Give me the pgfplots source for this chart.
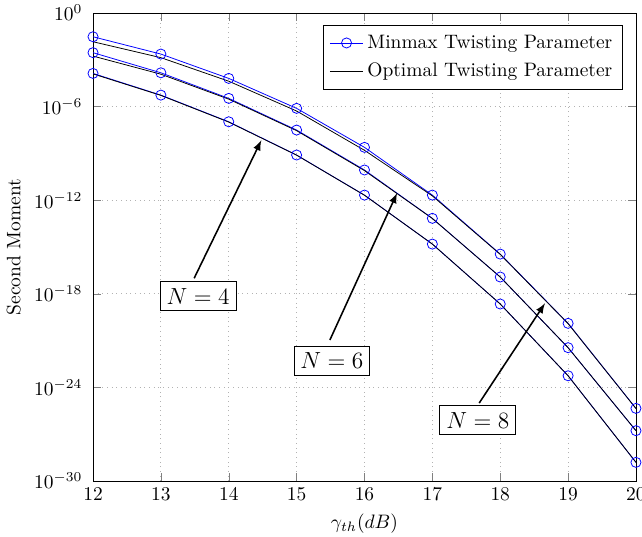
\documentclass[border=0pt]{standalone}
\usepackage{pgfplots}
\usepackage{pgfplotstable}
\pgfplotsset{compat=1.18}
\usetikzlibrary{arrows}

% log10 of the second moment
\pgfplotstableread{
x   m4     o4     m6     o6     m8     o8
12  -3.87  -3.90  -2.54  -2.76  -1.52  -1.84
13  -5.26  -5.28  -3.83  -3.92  -2.63  -2.86
14  -6.97  -6.99  -5.47  -5.52  -4.19  -4.37
15  -9.10  -9.11  -7.50  -7.54  -6.11  -6.28
16  -11.67 -11.68 -10.06 -10.10 -8.61  -8.80
17  -14.81 -14.81 -13.16 -13.17 -11.67 -11.72
18  -18.65 -18.65 -16.92 -16.92 -15.45 -15.47
19  -23.25 -23.25 -21.45 -21.45 -19.89 -19.91
20  -28.80 -28.80 -26.77 -26.77 -25.34 -25.35
}\moments

\begin{document}
\begin{tikzpicture}
\begin{axis}[
  scale only axis,
  width=279pt, height=240.5pt,
  xmin=12, xmax=20, ymin=1e-30, ymax=1,
  ymode=log,
  xtick={12,...,20},
  ytick={1e-30,1e-24,1e-18,1e-12,1e-6,1},
  grid=major,
  major grid style={dotted, gray!60},
  xlabel={$\gamma_{th}(dB)$},
  ylabel={Second Moment},
  yticklabel style={xshift=-2pt},
  legend pos=north east,
  legend cell align=left,
  legend style={draw=black, fill=white, at={(0.975,0.975)}, row sep=2pt, inner ysep=3pt},
]
\addplot[blue, mark=o, mark size=2.6pt] table[x=x, y expr=10^(\thisrow{m4})] {\moments};
\addlegendentry{Minmax Twisting Parameter}
\addplot[black, no marks] table[x=x, y expr=10^(\thisrow{o4})] {\moments};
\addlegendentry{Optimal Twisting Parameter}
\addplot[blue, mark=o, mark size=2.6pt, forget plot] table[x=x, y expr=10^(\thisrow{m6})] {\moments};
\addplot[black, no marks, forget plot] table[x=x, y expr=10^(\thisrow{o6})] {\moments};
\addplot[blue, mark=o, mark size=2.6pt, forget plot] table[x=x, y expr=10^(\thisrow{m8})] {\moments};
\addplot[black, no marks, forget plot] table[x=x, y expr=10^(\thisrow{o8})] {\moments};

\draw[thick, -latex] (axis cs:13.49,1e-17) -- (axis cs:14.48,7e-9);
\node[draw, fill=white, font=\large] at (axis cs:13.55,7e-19) {$N=4$};
\draw[thick, -latex] (axis cs:15.49,1.1e-21) -- (axis cs:16.48,2.9e-12);
\node[draw, fill=white, font=\large] at (axis cs:15.52,5e-23) {$N=6$};
\draw[thick, -latex] (axis cs:17.69,1e-25) -- (axis cs:18.66,2.5e-19);
\node[draw, fill=white, font=\large] at (axis cs:17.67,8e-27) {$N=8$};
\end{axis}
\pgfresetboundingbox
\path[use as bounding box] ([xshift=-47.8pt,yshift=-28.3pt]current axis.south west)
  rectangle ([xshift=3.1pt,yshift=6.7pt]current axis.north east);
\end{tikzpicture}
\end{document}
